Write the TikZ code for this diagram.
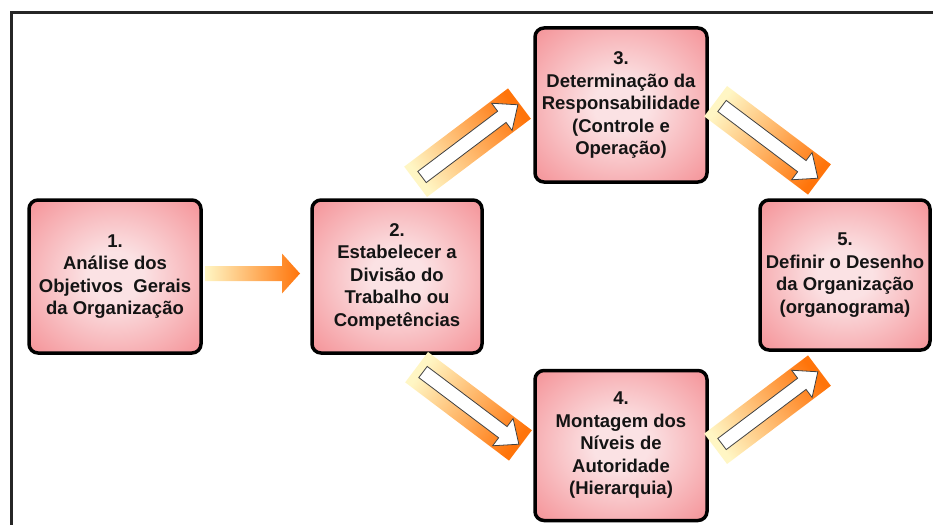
\documentclass[tikz,border=0pt]{standalone}
\usepackage{fontspec}
\setmainfont{Liberation Sans}
\usetikzlibrary{calc}
\definecolor{boxin}{RGB}{251,226,228}
\definecolor{boxout}{RGB}{242,116,122}
\definecolor{arrorange}{RGB}{255,116,10}
\definecolor{arrpale}{RGB}{255,246,196}
\definecolor{txt}{RGB}{20,20,20}
\pgfdeclareradialshading{boxshade}{\pgfpoint{0bp}{0bp}}{color(0bp)=(boxin); color(8bp)=(boxin); color(46bp)=(boxout); color(60bp)=(boxout)}
% #1 tail coordinate, #2 direction angle, #3 length, #4 shading angle
\newcommand\fancyarrow[4]{%
  \shade[top color=arrorange, bottom color=arrpale, shading angle=#4]
    ($(#1)+(#2:-8)+(#2+90:19)$) -- ($(#1)+(#2:#3+2)+(#2+90:19)$) --
    ($(#1)+(#2:#3+2)+(#2-90:19)$) -- ($(#1)+(#2:-8)+(#2-90:19)$) -- cycle;
  \draw[whitearrow]
    ($(#1)+(#2+90:7)$) -- ($(#1)+(#2:#3-20)+(#2+90:7)$) --
    ($(#1)+(#2:#3-20)+(#2+90:17)$) -- ($(#1)+(#2:#3)$) --
    ($(#1)+(#2:#3-20)+(#2-90:17)$) -- ($(#1)+(#2:#3-20)+(#2-90:7)$) --
    ($(#1)+(#2-90:7)$) -- cycle;}
\begin{document}
\begin{tikzpicture}[x=1pt,y=1pt,
  box/.style={shade, shading=boxshade, draw=black, line width=3.5pt, rounded corners=9pt,
    minimum width=172pt, minimum height=153pt, align=center, text=txt,
    font=\fontsize{18.5}{22.5}\selectfont\bfseries, inner sep=2pt},
  whitearrow/.style={fill=white, draw=black!75, line width=0.8pt, line join=miter},
  frame/.style={draw=black!85, line width=3pt}]
\useasboundingbox (0,0) rectangle (933,-524);
\draw[frame] (11,-540) -- (11,-13) -- (950,-13);

\node[box] (b1) at (115,-276.5) {1.\\Análise dos\\Objetivos~~Gerais\\da Organização};
\node[box, minimum width=170pt] (b2) at (397,-276.5) {2.\\Estabelecer a\\Divisão do\\Trabalho ou\\Competências};
\node[box, minimum height=154pt] (b3) at (621,-105) {3.\\Determinação da\\Responsabilidade\\(Controle e\\Operação)};
\node[box, minimum height=150pt] (b4) at (621,-445.5) {4.\\Montagem dos\\Níveis de\\Autoridade\\(Hierarquia)};
\node[box, minimum width=170pt, minimum height=150pt] (b5) at (845,-275) {5.\\Definir o Desenho\\da Organização\\(organograma)};

\coordinate (t12) at (205,-273.5);
\coordinate (t23) at (422,-177);
\coordinate (t24) at (423,-372);
\coordinate (t35) at (722,-106);
\coordinate (t45) at (722,-444);

\shade[left color=arrpale, right color=arrorange]
  ($(t12)+(0,7.5)$) -- ($(t12)+(77,7.5)$) -- ($(t12)+(77,20)$) -- ($(t12)+(95,0)$) --
  ($(t12)+(77,-20)$) -- ($(t12)+(77,-7.5)$) -- ($(t12)+(0,-7.5)$) -- cycle;

\fancyarrow{t23}{37}{120}{-53}
\fancyarrow{t24}{-37}{120}{-127}
\fancyarrow{t35}{-37}{120}{-127}
\fancyarrow{t45}{37}{120}{-53}
\end{tikzpicture}
\end{document}
